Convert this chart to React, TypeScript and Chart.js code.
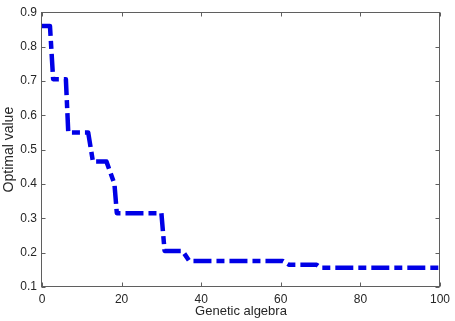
import React, { useEffect, useRef } from "react";
import { Chart, registerables } from "chart.js";

Chart.register(...registerables);

const generations = [0, 2, 2.8, 6, 6.6, 11.6, 12.8, 16.2, 18.2, 18.8, 30, 30.8, 35.3, 37, 60.5, 62, 69, 70, 100];
const optimalValues = [0.86, 0.86, 0.705, 0.705, 0.55, 0.55, 0.465, 0.465, 0.4, 0.315, 0.315, 0.205, 0.205, 0.176, 0.176, 0.165, 0.165, 0.156, 0.156];
const xTicks = [0, 20, 40, 60, 80, 100];
const yTicks = [0.1, 0.2, 0.3, 0.4, 0.5, 0.6, 0.7, 0.8, 0.9];
const xTitle = "Genetic algebra";
const yTitle = "Optimal value";

const axisColor = "#5f5f5f";
const textColor = "#262626";
const fontFamily = "'Liberation Sans', Arial, Helvetica, sans-serif";

const boxPlugin = {
  id: "matlabBox",
  afterDraw(chart: any) {
    const { ctx, chartArea } = chart;
    const { left, right, top, bottom } = chartArea;
    const xs = chart.scales.x;
    const ys = chart.scales.y;
    ctx.save();
    ctx.strokeStyle = axisColor;
    ctx.lineWidth = 1;
    const L = Math.round(left) - 0.5;
    const R = Math.round(right) - 0.5;
    const T = Math.round(top) + 0.5;
    const B = Math.round(bottom) - 0.5;
    ctx.strokeRect(L, T, R - L, B - T);
    const len = 4;
    ctx.beginPath();
    xTicks.forEach((v) => {
      const px = Math.round(xs.getPixelForValue(v)) + 0.5;
      ctx.moveTo(px, B);
      ctx.lineTo(px, B - len);
      ctx.moveTo(px, T);
      ctx.lineTo(px, T + len);
    });
    yTicks.forEach((v) => {
      const py = Math.round(ys.getPixelForValue(v)) + 0.5;
      ctx.moveTo(L, py);
      ctx.lineTo(L + len, py);
      ctx.moveTo(R, py);
      ctx.lineTo(R - len, py);
    });
    ctx.stroke();
    ctx.restore();
  },
};

export default function App() {
  const ref = useRef<HTMLCanvasElement>(null);
  useEffect(() => {
    document.body.style.margin = "0";
    const canvas = ref.current!;
    const chart = new Chart(canvas, {
      type: "line",
      data: {
        datasets: [
          {
            data: generations.map((g, i) => ({ x: g, y: optimalValues[i] })),
            borderColor: "rgb(0,0,230)",
            borderWidth: 4.5,
            borderDash: [18, 5, 8, 5],
            borderCapStyle: "butt",
            borderJoinStyle: "round",
            pointRadius: 0,
            tension: 0,
            fill: false,
          },
        ],
      },
      options: {
        responsive: false,
        animation: false,
        devicePixelRatio: 1,
        layout: { padding: { top: 9, right: 13, left: 0, bottom: 0 } },
        plugins: { legend: { display: false }, tooltip: { enabled: false } },
        scales: {
          x: {
            type: "linear",
            min: 0,
            max: 100,
            afterFit: (s: any) => {
              s.height = 34;
            },
            afterBuildTicks: (s: any) => {
              s.ticks = xTicks.map((v) => ({ value: v }));
            },
            grid: { display: false, drawTicks: false },
            border: { display: false },
            ticks: {
              padding: 5,
              color: textColor,
              font: { family: fontFamily, size: 12 },
              maxRotation: 0,
              callback: (v: any) => String(v),
            },
            title: {
              display: true,
              text: xTitle,
              color: textColor,
              font: { family: fontFamily, size: 13 },
              padding: { top: 0, bottom: 2 },
            },
          },
          y: {
            type: "linear",
            min: 0.1,
            max: 0.9,
            afterFit: (s: any) => {
              s.width = 42;
            },
            afterBuildTicks: (s: any) => {
              s.ticks = yTicks.map((v) => ({ value: v }));
            },
            grid: { display: false, drawTicks: false },
            border: { display: false },
            ticks: {
              padding: 5,
              color: textColor,
              font: { family: fontFamily, size: 12 },
              callback: (v: any) => Number(v).toFixed(1),
            },
            title: {
              display: true,
              text: yTitle,
              color: textColor,
              font: { family: fontFamily, size: 14 },
              padding: { top: 1, bottom: 0 },
            },
          },
        },
      },
      plugins: [boxPlugin],
    });
    return () => chart.destroy();
  }, []);
  return <canvas ref={ref} width={455} height={321} style={{ display: "block" }} />;
}
